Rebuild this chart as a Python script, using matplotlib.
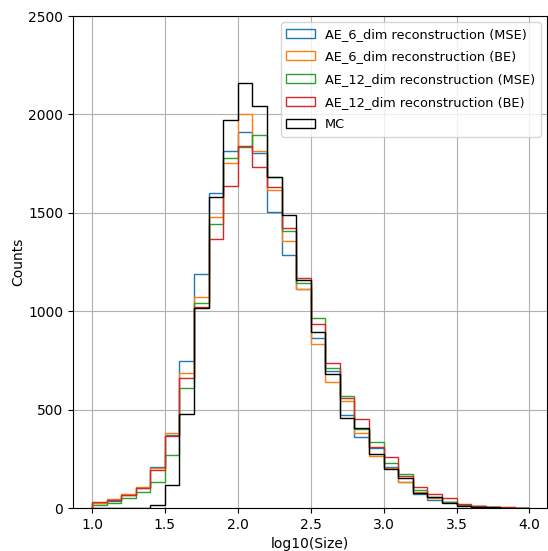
from matplotlib import pyplot as plt
import numpy as np

# 30 bins of width 0.1 between log10(Size) = 1.0 and 4.0
bin_edges = np.round(np.arange(1.0, 4.01, 0.1), 2)
bin_centers = (bin_edges[:-1] + bin_edges[1:]) / 2

ae6_mse = [25, 36, 66, 101, 210, 372, 747, 1189, 1599, 1815, 1912, 1805, 1503, 1285, 1115,
           862, 698, 472, 359, 303, 210, 130, 71, 41, 32, 15, 8, 4, 2, 1]
ae6_be = [25, 46, 73, 108, 203, 379, 684, 1074, 1480, 1751, 2000, 1815, 1618, 1358, 1111,
          833, 642, 545, 383, 266, 205, 134, 80, 49, 30, 15, 10, 6, 3, 1]
ae12_mse = [17, 27, 49, 83, 134, 268, 608, 1040, 1441, 1777, 1833, 1895, 1680, 1410, 1145,
            964, 710, 571, 401, 337, 230, 173, 91, 58, 30, 15, 8, 4, 2, 1]
ae12_be = [30, 40, 66, 101, 193, 366, 659, 1020, 1367, 1638, 1839, 1734, 1633, 1425, 1167,
           935, 735, 557, 451, 312, 257, 163, 105, 69, 49, 20, 12, 6, 3, 1]
mc = [0, 0, 0, 0, 15, 118, 478, 1015, 1582, 1971, 2161, 2044, 1684, 1489, 1158,
      896, 681, 456, 405, 274, 197, 151, 75, 58, 24, 10, 5, 3, 1, 0]

series = [
    ("AE_6_dim reconstruction (MSE)", ae6_mse, "C0"),
    ("AE_6_dim reconstruction (BE)", ae6_be, "C1"),
    ("AE_12_dim reconstruction (MSE)", ae12_mse, "C2"),
    ("AE_12_dim reconstruction (BE)", ae12_be, "C3"),
    ("MC", mc, "black"),
]

fig = plt.figure(figsize=(5.48, 5.51), dpi=100)
ax = fig.add_axes([73 / 548, 43 / 551, 474 / 548, 492 / 551])

for label, counts, color in series:
    ax.hist(bin_centers, bins=bin_edges, weights=counts, histtype="step",
            color=color, label=label, linewidth=1.0)

ax.set_xlim(0.87, 4.12)
ax.set_ylim(0, 2500)
ax.set_xticks([1.0, 1.5, 2.0, 2.5, 3.0, 3.5, 4.0])
ax.grid(True)
ax.set_axisbelow(True)
ax.set_xlabel("log10(Size)")
ax.set_ylabel("Counts", labelpad=2)
ax.legend(loc="upper right", fontsize=9.3, labelspacing=0.75, handlelength=2.2)

fig.savefig("out.png", dpi=100)
